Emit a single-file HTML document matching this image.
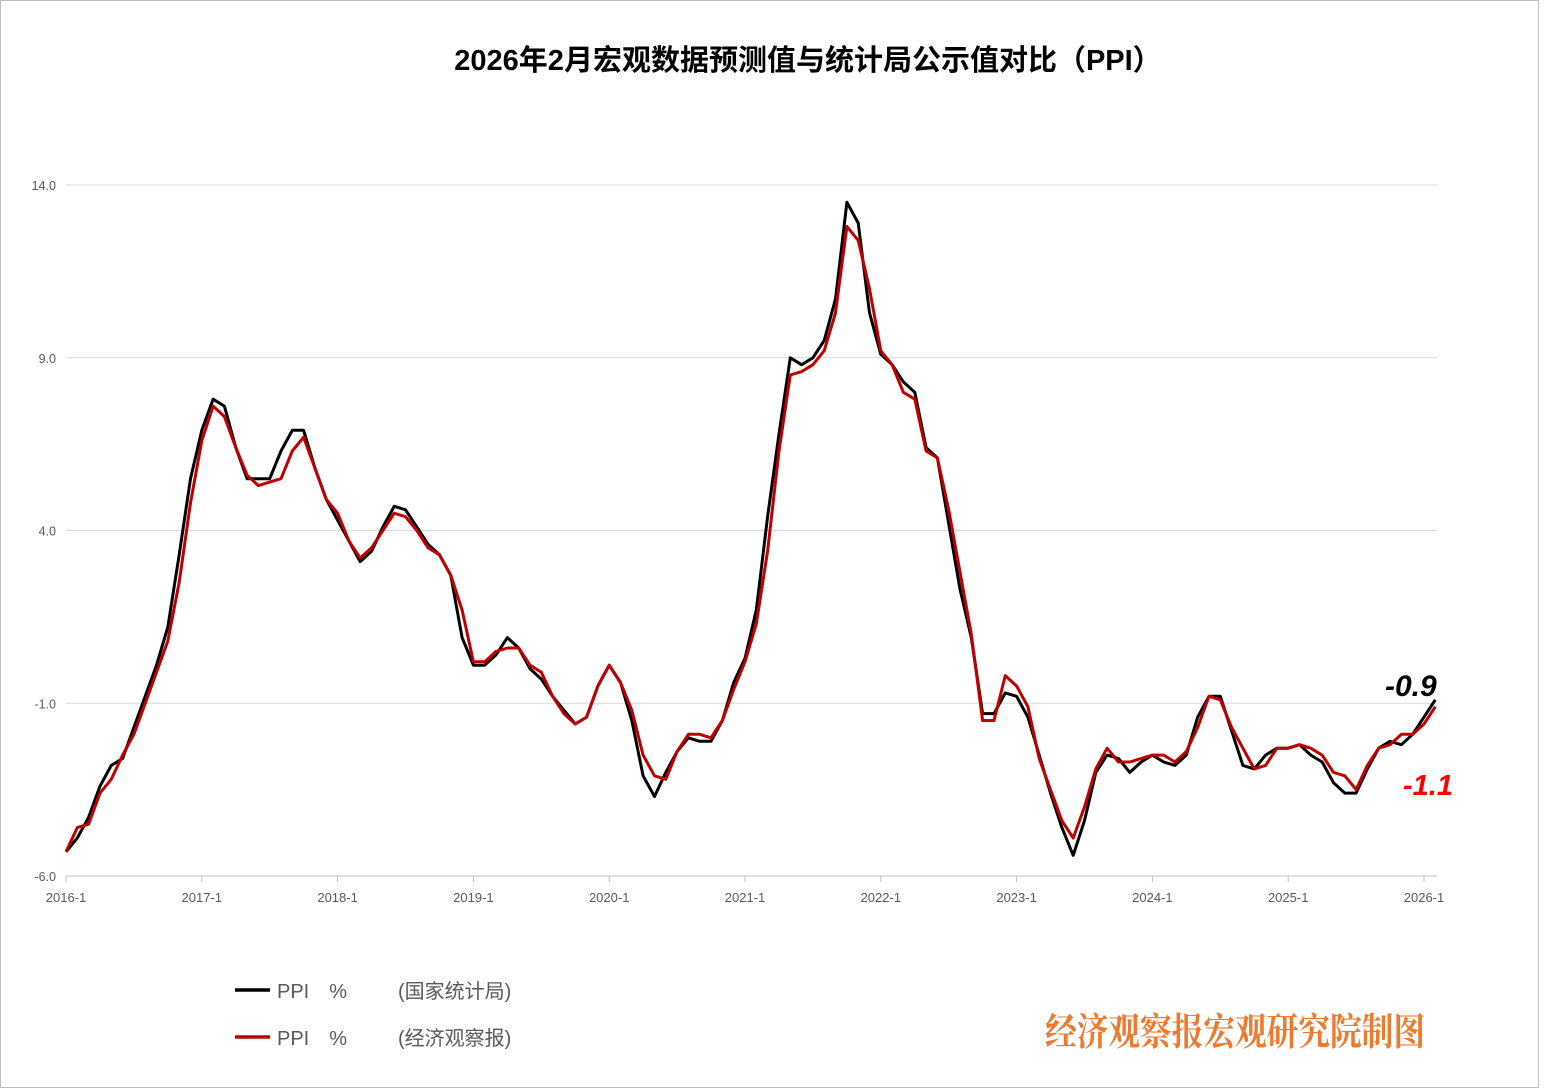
<!DOCTYPE html>
<html><head><meta charset="utf-8">
<style>
body{margin:0;background:#fff;}
#wrap{position:relative;width:1560px;height:1089px;overflow:hidden;}
</style></head>
<body>
<div id="wrap">
<svg id="chart" width="1560" height="1089" xmlns="http://www.w3.org/2000/svg">
<rect x="0.5" y="0.5" width="1538" height="1087" fill="#fff" stroke="#bfbfbf"/>
<text x="808" y="70" text-anchor="middle" font-family="Liberation Sans, Noto Sans CJK SC, sans-serif" font-size="29" font-weight="bold" fill="#000">2026年2月宏观数据预测值与统计局公示值对比（PPI）</text>
<g id="grid"></g><g id="axes"></g><g id="series"></g>
<g>
<line x1="235" y1="990" x2="270" y2="990" stroke="#000" stroke-width="3.5"/>
<text x="277" y="998" font-family="Liberation Sans, Noto Sans CJK SC, sans-serif" font-size="20" fill="#595959">PPI　%</text>
<text x="398" y="998" font-family="Liberation Sans, Noto Sans CJK SC, sans-serif" font-size="20" fill="#595959">(国家统计局)</text>
<line x1="235" y1="1037" x2="270" y2="1037" stroke="#c00000" stroke-width="3.5"/>
<text x="277" y="1045" font-family="Liberation Sans, Noto Sans CJK SC, sans-serif" font-size="20" fill="#595959">PPI　%</text>
<text x="398" y="1045" font-family="Liberation Sans, Noto Sans CJK SC, sans-serif" font-size="20" fill="#595959">(经济观察报)</text>
</g>
<text x="1045" y="1045" textLength="380" lengthAdjust="spacingAndGlyphs" font-family="Noto Serif CJK SC, serif" font-size="38" font-weight="bold" fill="#ee7a30">经济观察报宏观研究院制图</text>
<text x="1385" y="696" font-family="Liberation Sans, sans-serif" font-size="30" font-weight="bold" font-style="italic" fill="#000">-0.9</text>
<text x="1403" y="795" font-family="Liberation Sans, sans-serif" font-size="29" font-weight="bold" font-style="italic" fill="#ff0000">-1.1</text>
</svg>
</div>
<script>
const yTicks=[14,9,4,-1,-6];
const yTickLabels=["14.0","9.0","4.0","-1.0","-6.0"];
const xTickYears=[2016,2017,2018,2019,2020,2021,2022,2023,2024,2025,2026];
const actual=[-5.3,-4.9,-4.3,-3.4,-2.8,-2.6,-1.7,-0.8,0.1,1.2,3.3,5.5,
6.9,7.8,7.6,6.4,5.5,5.5,5.5,6.3,6.9,6.9,5.8,4.9,
4.3,3.7,3.1,3.4,4.1,4.7,4.6,4.1,3.6,3.3,2.7,0.9,
0.1,0.1,0.4,0.9,0.6,0,-0.3,-0.8,-1.2,-1.6,-1.4,-0.5,
0.1,-0.4,-1.5,-3.1,-3.7,-3.0,-2.4,-2.0,-2.1,-2.1,-1.5,-0.4,
0.3,1.7,4.4,6.8,9.0,8.8,9.0,9.5,10.7,13.5,12.9,10.3,
9.1,8.8,8.3,8.0,6.4,6.1,4.2,2.3,0.9,-1.3,-1.3,-0.7,
-0.8,-1.4,-2.5,-3.6,-4.6,-5.4,-4.4,-3.0,-2.5,-2.6,-3.0,-2.7,
-2.5,-2.7,-2.8,-2.5,-1.4,-0.8,-0.8,-1.8,-2.8,-2.9,-2.5,-2.3,
-2.3,-2.2,-2.5,-2.7,-3.3,-3.6,-3.6,-2.9,-2.3,-2.1,-2.2,-1.9,
-1.4,-0.9];
const forecast=[-5.3,-4.6,-4.5,-3.6,-3.2,-2.5,-1.9,-1.0,-0.1,0.8,2.5,4.8,
6.6,7.6,7.3,6.4,5.6,5.3,5.4,5.5,6.3,6.7,5.8,4.9,
4.5,3.7,3.2,3.5,4.0,4.5,4.4,4.0,3.5,3.3,2.7,1.7,
0.2,0.2,0.5,0.6,0.6,0.1,-0.1,-0.8,-1.3,-1.6,-1.4,-0.5,
0.1,-0.4,-1.2,-2.5,-3.1,-3.2,-2.4,-1.9,-1.9,-2.0,-1.5,-0.6,
0.2,1.3,3.4,6.3,8.5,8.6,8.8,9.2,10.3,12.8,12.4,11.0,
9.2,8.8,8.0,7.8,6.3,6.1,4.6,2.8,1.0,-1.5,-1.5,-0.2,
-0.5,-1.1,-2.6,-3.5,-4.4,-4.9,-4.0,-2.9,-2.3,-2.7,-2.7,-2.6,
-2.5,-2.5,-2.7,-2.4,-1.7,-0.8,-0.9,-1.7,-2.3,-2.9,-2.8,-2.3,
-2.3,-2.2,-2.3,-2.5,-3.0,-3.1,-3.5,-2.8,-2.3,-2.2,-1.9,-1.9,
-1.6,-1.1];
const NS="http://www.w3.org/2000/svg";
const X0=66,X1=1424,Y14=185,Yn6=876;
function xs(i){return X0+(X1-X0)*i/120;}
function ys(v){return Yn6-(v+6)*(Yn6-Y14)/20;}
function mk(tag,attrs,parent){const e=document.createElementNS(NS,tag);for(const k in attrs)e.setAttribute(k,attrs[k]);parent.appendChild(e);return e;}
const grid=document.getElementById('grid'),axes=document.getElementById('axes'),ser=document.getElementById('series');
yTicks.forEach((v,i)=>{
 if(v!==-6){const l=mk('line',{x1:66,x2:1437,y1:ys(v),y2:ys(v),stroke:'#d9d9d9','stroke-width':1},grid);
 
 }
 const t=mk('text',{x:56,y:ys(v)+5,'text-anchor':'end','font-family':'Liberation Sans, sans-serif','font-size':12.5,fill:'#595959'},axes);
 t.textContent=yTickLabels[i];
 
 
});
const ax=mk('line',{x1:66,x2:1437,y1:ys(-6),y2:ys(-6),stroke:'#bfbfbf','stroke-width':1},axes);


xTickYears.forEach((yr,i)=>{
 const x=xs(i*12);
 const tk=mk('line',{x1:x,x2:x,y1:876,y2:882,stroke:'#bfbfbf'},axes);
 
 
 const t=mk('text',{x:x,y:902,'text-anchor':'middle','font-family':'Liberation Sans, sans-serif','font-size':13,fill:'#595959'},axes);
 t.textContent=yr+'-1';
 
 
});
function line(arr,color,name){
 const d=arr.map((v,i)=>(i?'L':'M')+xs(i).toFixed(1)+','+ys(v).toFixed(1)).join('');
 const p=mk('path',{d:d,fill:'none',stroke:color,'stroke-width':3,'stroke-linejoin':'round'},ser);
 
 
}
line(actual,'#000','series-nbs-actual');
line(forecast,'#c00000','series-eeo-forecast');
</script>
</body></html>
